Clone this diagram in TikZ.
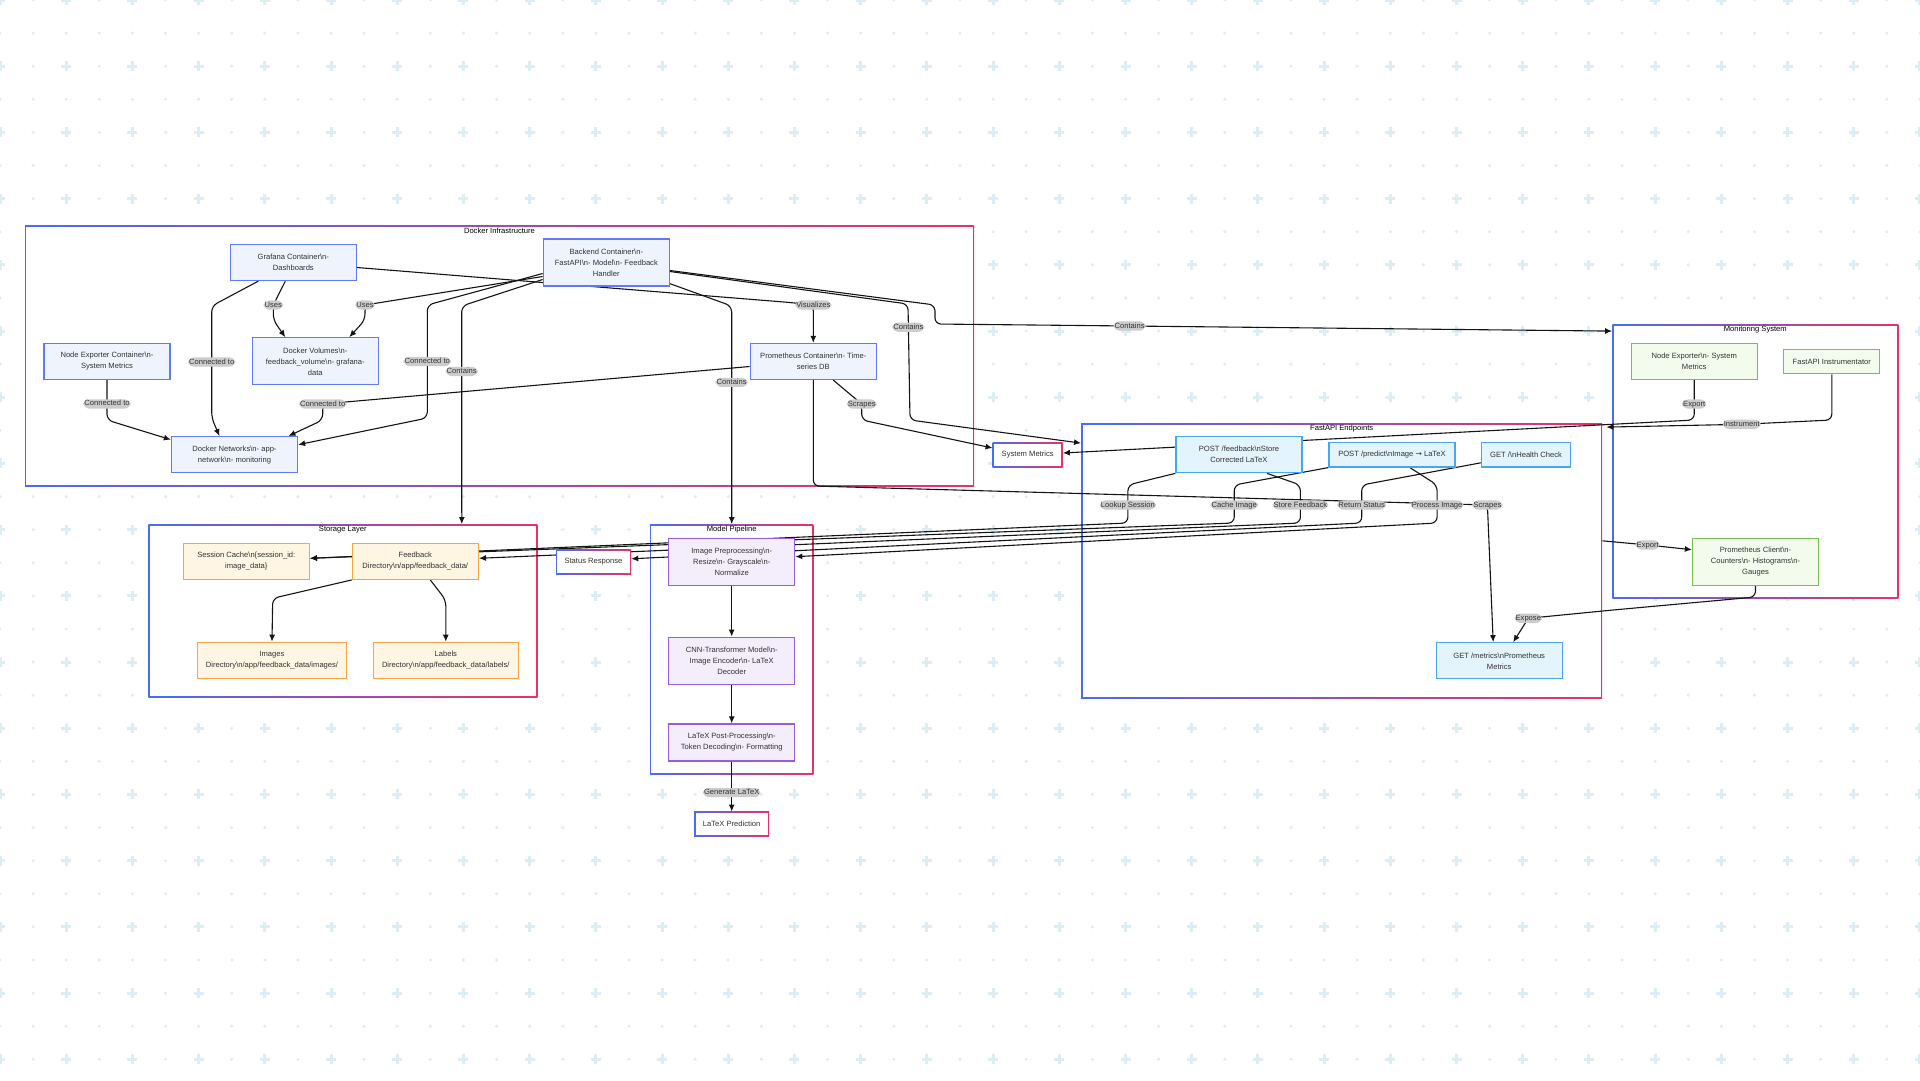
\documentclass[tikz,border=0pt]{standalone}
\usepackage{fontspec}
\setmainfont{Liberation Sans}
\newfontfamily\symfont{DejaVu Sans}
\usetikzlibrary{arrows.meta}
\definecolor{gridc}{RGB}{220,238,243}
\definecolor{gradL}{RGB}{72,108,245}
\definecolor{gradR}{RGB}{236,48,98}
\definecolor{txtc}{RGB}{51,51,51}
\definecolor{lblgray}{RGB}{204,204,204}
\definecolor{edgec}{RGB}{20,20,20}
\definecolor{dockfill}{RGB}{238,243,254}
\definecolor{dockdraw}{RGB}{92,124,245}
\definecolor{apifill}{RGB}{227,244,253}
\definecolor{apidraw}{RGB}{72,166,240}
\definecolor{modfill}{RGB}{244,238,252}
\definecolor{moddraw}{RGB}{150,92,222}
\definecolor{stofill}{RGB}{254,245,227}
\definecolor{stodraw}{RGB}{245,165,66}
\definecolor{monfill}{RGB}{243,252,236}
\definecolor{mondraw}{RGB}{112,196,76}
\newcommand{\bsn}{\textbackslash n}
\newcommand{\diagfont}{\fontsize{7.6}{11}\selectfont}
\pgfdeclarelayer{grid}
\pgfdeclarelayer{edges}
\pgfsetlayers{grid,edges,main}
\tikzset{
	>={Latex[length=7pt,width=6pt]},
	box/.style={draw, line width=1.3pt, inner sep=0pt, minimum width=126pt, minimum height=36pt, align=center, text=txtc, font=\diagfont},
	dock/.style={box, fill=dockfill, draw=dockdraw},
	api/.style={box, fill=apifill, draw=apidraw},
	modl/.style={box, fill=modfill, draw=moddraw},
	store/.style={box, fill=stofill, draw=stodraw},
	moni/.style={box, fill=monfill, draw=mondraw},
	tall/.style={minimum height=47pt},
	slim/.style={minimum height=24.5pt},
	gradbox/.style={inner sep=0pt, left color=gradL, right color=gradR, path picture={\fill[white] ([shift={(1.3pt,-1.3pt)}]path picture bounding box.north west) rectangle ([shift={(-1.3pt,1.3pt)}]path picture bounding box.south east);}},
	gradnode/.style={gradbox, minimum height=24.5pt, align=center, text=txtc, font=\diagfont},
	cluster/.style={gradbox},
	title/.style={anchor=north, inner sep=0pt, yshift=-2pt, text=black, font=\diagfont},
	lbl/.style={fill=lblgray, text=txtc, inner sep=1pt, text height=5.6pt, text depth=1.6pt, font=\fontsize{7.6}{9}\selectfont},
	edge/.style={->, draw=edgec, line width=1.1pt, rounded corners=6pt}
}
\begin{document}
\begin{tikzpicture}[x=1pt, y=-1pt]
\useasboundingbox (0,0) rectangle (1920,1080);

\begin{pgfonlayer}{grid}
% dotted backdrop
\fill[white] (0,0) rectangle (1920,1080);
\foreach \i in {0,...,58}
	\foreach \j in {0,...,32}
		\fill[gridc] (\i*33.103,\j*33.103) circle (1.7pt);
\foreach \i in {0,2,...,58}
	\foreach \j in {0,2,...,32} {
		\fill[gridc] (\i*33.103-5,\j*33.103-1.5) rectangle (\i*33.103+5,\j*33.103+1.5);
		\fill[gridc] (\i*33.103-1.5,\j*33.103-5) rectangle (\i*33.103+1.5,\j*33.103+5);
	}
% subgraphs
\node[cluster, minimum width=949pt, minimum height=261pt, label={[title]north:Docker Infrastructure}] (docker) at (499.5,356) {};
\node[cluster, minimum width=389pt, minimum height=173.4pt, label={[title]north:Storage Layer}] (storage) at (342.8,611) {};
\node[cluster, minimum width=163.3pt, minimum height=249.7pt, label={[title]north:Model Pipeline}] (model) at (731.7,649.2) {};
\node[cluster, minimum width=521pt, minimum height=275pt, label={[title]north:FastAPI Endpoints}] (fastapi) at (1341.7,560.8) {};
\node[cluster, minimum width=286pt, minimum height=274.4pt, label={[title]north:Monitoring System}] (monitor) at (1755.3,461.5) {};
\end{pgfonlayer}

% docker infrastructure
\node[dock] (grafana) at (293.3,262.5) {Grafana Container\bsn-\\Dashboards};
\node[dock] (nodeexp) at (107,361.3) {Node Exporter Container\bsn-\\System Metrics};
\node[dock, tall] (volumes) at (315.3,361.3) {Docker Volumes\bsn-\\feedback\_volume\bsn- grafana-\\data};
\node[dock] (networks) at (234.5,454.7) {Docker Networks\bsn- app-\\network\bsn- monitoring};
\node[dock, tall] (backend) at (606.3,262.5) {Backend Container\bsn-\\FastAPI\bsn- Model\bsn- Feedback\\Handler};
\node[dock] (prom) at (813.3,361.5) {Prometheus Container\bsn- Time-\\series DB};

% storage
\node[store] (session) at (246.3,561.3) {Session Cache\bsn\{session\_id:\\image\_data\}};
\node[store] (fbdir) at (415.3,561.3) {Feedback\\Directory\bsn/app/feedback\_data/};
\node[store, minimum width=149pt] (images) at (272,660.3) {Images\\Directory\bsn/app/feedback\_data/images/};
\node[store, minimum width=145pt] (labels) at (445.8,660.3) {Labels\\Directory\bsn/app/feedback\_data/labels/};
\node[gradnode, minimum width=75pt] (status) at (593.5,561.8) {Status Response};

% model pipeline
\node[modl, tall] (prep) at (731.7,561.7) {Image Preprocessing\bsn-\\Resize\bsn- Grayscale\bsn-\\Normalize};
\node[modl, tall] (cnn) at (731.7,660.7) {CNN-Transformer Model\bsn-\\Image Encoder\bsn- LaTeX\\Decoder};
\node[modl, minimum height=37pt] (post) at (731.7,742.5) {LaTeX Post-Processing\bsn-\\Token Decoding\bsn- Formatting};
\node[gradnode, minimum width=75pt] (pred) at (731.7,824) {LaTeX Prediction};

% endpoints
\node[gradnode, minimum width=70pt] (sysmet) at (1027.7,455) {System Metrics};
\node[api] (postfb) at (1239,454.7) {POST /feedback\bsn Store\\Corrected LaTeX};
\node[api, slim] (postpred) at (1391.9,454.7) {POST /predict\bsn Image {\symfont →} LaTeX};
\node[api, slim, minimum width=89pt] (gethealth) at (1526,454.8) {GET /\bsn Health Check};
\node[api] (getmetrics) at (1499.2,660.8) {GET /metrics\bsn Prometheus\\Metrics};

% monitoring
\node[moni] (mnodeexp) at (1694.2,361.5) {Node Exporter\bsn- System\\Metrics};
\node[moni, slim, minimum width=96pt] (instr) at (1831.8,361.5) {FastAPI Instrumentator};
\node[moni, tall] (promclient) at (1755.5,561.7) {Prometheus Client\bsn-\\Counters\bsn- Histograms\bsn-\\Gauges};

\begin{pgfonlayer}{edges}
\draw[edge] (prom.south) -- (813.3,486) -- (1487.4,505) node[lbl]{Scrapes} -- ([xshift=-6pt]getmetrics.north);
\draw[edge] ([xshift=-35pt]grafana.south) -- (211.7,306) -- node[lbl]{Connected to} (211.7,418) -- ([xshift=-15pt]networks.north);
\draw[edge] ([xshift=-8pt]grafana.south) -- (273.3,305) node[lbl]{Uses} -- (273.3,320) -- ([xshift=-30pt]volumes.north);
\draw[edge] ([yshift=-14pt]backend.west) -- (365,305) node[lbl]{Uses} -- (365,320) -- ([xshift=34pt]volumes.north);
\draw[edge] (nodeexp.south) -- node[lbl, pos=0.6]{Connected to} (107,420) -- ([yshift=15pt]networks.west);
\draw[edge] ([yshift=-5pt]prom.west) -- (322.7,404) node[lbl]{Connected to} -- (322.7,420) -- ([xshift=54pt]networks.north);
\draw[edge] ([yshift=-11pt]backend.west) -- (427.3,305) -- node[lbl]{Connected to} (427.3,418) -- ([yshift=10pt]networks.east);
\draw[edge] ([yshift=-17pt]backend.west) -- (461.7,306) -- node[lbl, pos=0.3]{Contains} ([xshift=119pt]storage.north);
\draw[edge] ([yshift=3pt]backend.south east) -- (731.7,306) -- node[lbl, pos=0.35]{Contains} (model.north);
\draw[edge] ([yshift=-5pt]grafana.east) -- (790,302.5) -- (813.3,305) node[lbl]{Visualizes} -- (prom.north);
\draw[edge] ([yshift=-9pt]backend.east) -- (908,304) -- node[lbl, pos=0.2]{Contains} (910,420) -- ([yshift=-20pt]fastapi.north west);
\draw[edge] ([yshift=-8pt]backend.east) -- (935,305) -- (935,324) -- (1129.6,326) node[lbl]{Contains} -- ([yshift=-7pt]monitor.north west);
\draw[edge] ([xshift=20pt]prom.south) -- (861.7,404) node[lbl]{Scrapes} -- (861.7,420) -- ([yshift=7pt]sysmet.west);
% endpoints to storage and model
\draw[edge] (postfb.south west) -- (1127.9,485) -- (1127.9,505) node[lbl]{Lookup Session} -- (1127.9,523) -- ([yshift=3pt]session.east);
\draw[edge] (postpred.south west) -- (1234.2,485) -- (1234.2,505) node[lbl]{Cache Image} -- (1234.2,523) -- ([yshift=3pt]session.east);
\draw[edge] ([xshift=28pt]postfb.south) -- (1300.4,485) -- (1300.4,505) node[lbl]{Store Feedback} -- (1300.4,523) -- ([yshift=3pt]fbdir.east);
\draw[edge] ([yshift=-8pt]gethealth.west) -- (1361.7,485) -- (1361.7,505) node[lbl]{Return Status} -- (1361.7,523) -- ([yshift=3pt]status.east);
\draw[edge] ([xshift=18pt]postpred.south) -- (1437.1,485) -- (1437.1,505) node[lbl]{Process Image} -- (1437.1,523) -- ([yshift=5pt]prep.east);
% monitoring
\draw[edge] (mnodeexp.south) -- node[lbl, pos=0.6]{Export} (1694.2,420) -- ([yshift=2pt]sysmet.east);
\draw[edge] (instr.south) -- (1831.8,420) -- (1741.7,424.3) node[lbl]{Instrument} -- ([xshift=4pt,yshift=-4pt]fastapi.north east);
\draw[edge] ([yshift=20pt]fastapi.east) -- (1647.7,545) node[lbl]{Export} -- ([yshift=12pt]promclient.west);
\draw[edge] (promclient.south) -- (1755.5,597) -- (1613,610) -- (1528.3,618.3) node[lbl]{Expose} -- ([xshift=14pt]getmetrics.north);
% storage and pipeline
\draw[edge] (fbdir.south west) -- (272.7,598.3) -- (images.north);
\draw[edge] ([xshift=15pt]fbdir.south) -- (445.8,600) -- (labels.north);
\draw[edge] (prep.south) -- (cnn.north);
\draw[edge] (cnn.south) -- (post.north);
\draw[edge] (post.south) -- node[lbl, pos=0.62]{Generate LaTeX} (pred.north);
\end{pgfonlayer}
\end{tikzpicture}
\end{document}
